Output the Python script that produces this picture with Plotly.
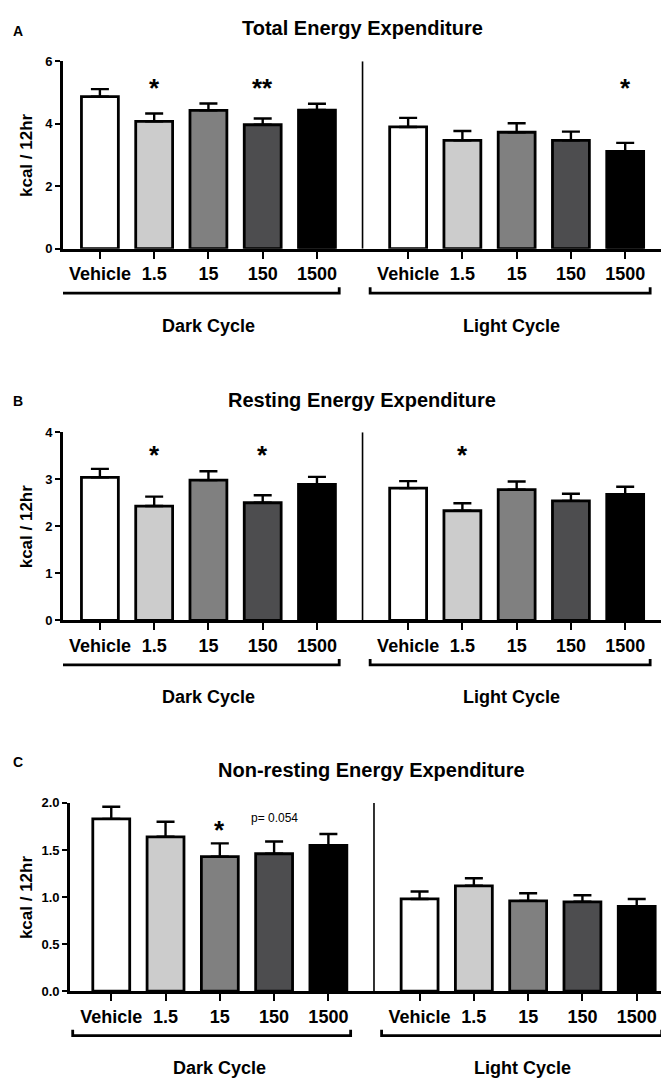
import plotly.graph_objects as go

# ---------------- data ----------------
doses = ["Vehicle", "1.5", "15", "150", "1500"]
cycles = ["Dark Cycle", "Light Cycle"]
fills = ["#ffffff", "#cccccc", "#808080", "#4d4d4f", "#000000"]

panel_titles = ["Total Energy Expenditure", "Resting Energy Expenditure", "Non-resting Energy Expenditure"]
panel_letters = ["A", "B", "C"]

total_dark = [4.87, 4.08, 4.43, 3.97, 4.44]
total_dark_err = [0.24, 0.25, 0.22, 0.20, 0.20]
total_light = [3.90, 3.47, 3.73, 3.47, 3.12]
total_light_err = [0.29, 0.30, 0.29, 0.28, 0.27]

rest_dark = [3.04, 2.43, 2.98, 2.50, 2.89]
rest_dark_err = [0.18, 0.20, 0.19, 0.16, 0.16]
rest_light = [2.81, 2.33, 2.78, 2.54, 2.68]
rest_light_err = [0.15, 0.16, 0.17, 0.15, 0.16]

nonrest_dark = [1.83, 1.64, 1.43, 1.46, 1.55]
nonrest_dark_err = [0.13, 0.16, 0.14, 0.13, 0.12]
nonrest_light = [0.98, 1.12, 0.96, 0.95, 0.90]
nonrest_light_err = [0.08, 0.08, 0.08, 0.07, 0.08]

# significance marks: (panel index, cycle index, dose index, label, y value)
sig_marks = [
    (0, 0, 1, "*", 5.34), (0, 0, 3, "**", 5.34), (0, 1, 4, "*", 5.34),
    (1, 0, 1, "*", 3.65), (1, 0, 3, "*", 3.65), (1, 1, 1, "*", 3.65),
    (2, 0, 2, "*", 1.78),
]
p_notes = [(2, 0, 3, "p= 0.054", 1.84)]

y_ticks = [[0, 2, 4, 6], [0, 1, 2, 3, 4], [0.0, 0.5, 1.0, 1.5, 2.0]]
y_ticktext = [["0", "2", "4", "6"], ["0", "1", "2", "3", "4"], ["0.0", "0.5", "1.0", "1.5", "2.0"]]
y_max = [6, 4, 2]

panels = [
    (total_dark, total_dark_err, total_light, total_light_err),
    (rest_dark, rest_dark_err, rest_light, rest_light_err),
    (nonrest_dark, nonrest_dark_err, nonrest_light, nonrest_light_err),
]

# ---------------- layout geometry (pixels) ----------------
W, H = 669, 1081
GAP = 5.68          # offset of light-cycle group on the numeric x scale
SEP = 4.84          # separator position
x_dom_px = [(55, 653), (55, 653), (62, 664)]
x_rng = [(-0.68, 10.34), (-0.68, 10.34), (-0.76, 10.33)]
y_dom_px = [(47, 237), (423, 614), (799, 990)]   # (top, bottom)
title_px = [13, 390, 766]
letter_px = [16, 391, 758]

FONT = "Liberation Sans, Arial, Helvetica, sans-serif"


def py(p):
    return 1 - p / H


def px(p):
    return p / W


fig = go.Figure()
annotations = []
shapes = []

x_dark = [i for i in range(len(doses))]
x_light = [i + GAP for i in range(len(doses))]

for k, (dv, de, lv, le) in enumerate(panels):
    xa = "x" if k == 0 else f"x{k+1}"
    ya = "y" if k == 0 else f"y{k+1}"
    for xs, vals, errs in ((x_dark, dv, de), (x_light, lv, le)):
        fig.add_trace(go.Bar(
            x=xs, y=vals, xaxis=xa, yaxis=ya, width=0.68,
            marker=dict(color=fills, line=dict(color="black", width=2.8)),
            error_y=dict(type="data", array=errs, arrayminus=[0] * len(errs),
                         symmetric=False, color="black", thickness=2.4, width=9),
            showlegend=False, hoverinfo="skip",
        ))

    top, bot = y_dom_px[k]
    xl, xr = x_dom_px[k]
    axis_x = dict(
        domain=[px(xl), px(xr)], range=list(x_rng[k]), anchor=ya,
        tickmode="array", tickvals=x_dark + x_light, ticktext=doses * 2,
        ticks="outside", ticklen=7, tickwidth=2.4, tickcolor="black",
        showline=True, linecolor="black", linewidth=2.8,
        showgrid=False, zeroline=False,
        tickfont=dict(family=FONT, size=18, color="black", weight="bold"),
        fixedrange=True,
    )
    axis_y = dict(
        domain=[py(bot), py(top)], range=[0, y_max[k]], anchor=xa,
        tickmode="array", tickvals=y_ticks[k], ticktext=y_ticktext[k],
        ticks="outside", ticklen=5, tickwidth=2.4, tickcolor="black",
        showline=True, linecolor="black", linewidth=2.8,
        showgrid=False, zeroline=False,
        tickfont=dict(family=FONT, size=13, color="black", weight="bold"),
        fixedrange=True,
    )
    fig.update_layout(**{("xaxis" if k == 0 else f"xaxis{k+1}"): axis_x,
                         ("yaxis" if k == 0 else f"yaxis{k+1}"): axis_y})

    # separator
    shapes.append(dict(type="line", xref=xa, yref=ya, x0=SEP, x1=SEP, y0=0, y1=y_max[k],
                       line=dict(color="black", width=1.6)))

    # brackets
    by = bot + 45
    for (b0, b1) in ((-0.71, 4.41), (4.98, 10.14)):
        shapes.append(dict(type="path", xref=xa, yref="paper",
                           path=f"M {b0},{py(by-6)} L {b0},{py(by)} L {b1},{py(by)} L {b1},{py(by-6)}",
                           line=dict(color="black", width=2.8)))
    # cycle labels
    for cx, name in ((2, cycles[0]), (2 + GAP - 0.1, cycles[1])):
        annotations.append(dict(x=cx, xref=xa, y=py(bot + 78), yref="paper", text=name,
                                showarrow=False, yanchor="middle",
                                font=dict(family=FONT, size=18, color="black", weight="bold")))
    # title
    annotations.append(dict(x=px((xl + xr) / 2), xref="paper", y=py(title_px[k]), yref="paper",
                            text=panel_titles[k], showarrow=False, yanchor="middle",
                            font=dict(family=FONT, size=20, color="black", weight="bold")))
    # letter
    annotations.append(dict(x=px(3), xref="paper", y=py(letter_px[k]), yref="paper",
                            text=panel_letters[k], showarrow=False, xanchor="left", yanchor="middle",
                            font=dict(family=FONT, size=14, color="black", weight="bold")))
    # y-axis title
    annotations.append(dict(x=px(18), xref="paper", y=py((top + bot) / 2), yref="paper",
                            text="kcal / 12hr", showarrow=False, textangle=-90,
                            xanchor="center", yanchor="middle",
                            font=dict(family=FONT, size=17, color="black", weight="bold")))

for (k, c, d, lab, yv) in sig_marks:
    xa = "x" if k == 0 else f"x{k+1}"
    ya = "y" if k == 0 else f"y{k+1}"
    xv = (x_dark if c == 0 else x_light)[d]
    annotations.append(dict(x=xv, xref=xa, y=yv, yref=ya, text=lab, showarrow=False,
                            yanchor="middle", yshift=-6,
                            font=dict(family=FONT, size=26, color="black", weight="bold")))

for (k, c, d, lab, yv) in p_notes:
    xa = "x" if k == 0 else f"x{k+1}"
    ya = "y" if k == 0 else f"y{k+1}"
    xv = (x_dark if c == 0 else x_light)[d]
    annotations.append(dict(x=xv, xref=xa, y=yv, yref=ya, text=lab, showarrow=False,
                            yanchor="middle",
                            font=dict(family=FONT, size=12, color="black")))

fig.update_layout(
    width=W, height=H, margin=dict(l=0, r=0, t=0, b=0),
    paper_bgcolor="white", plot_bgcolor="white",
    barmode="overlay", annotations=annotations, shapes=shapes,
    font=dict(family=FONT, color="black"),
)

fig.write_html("out.html")
